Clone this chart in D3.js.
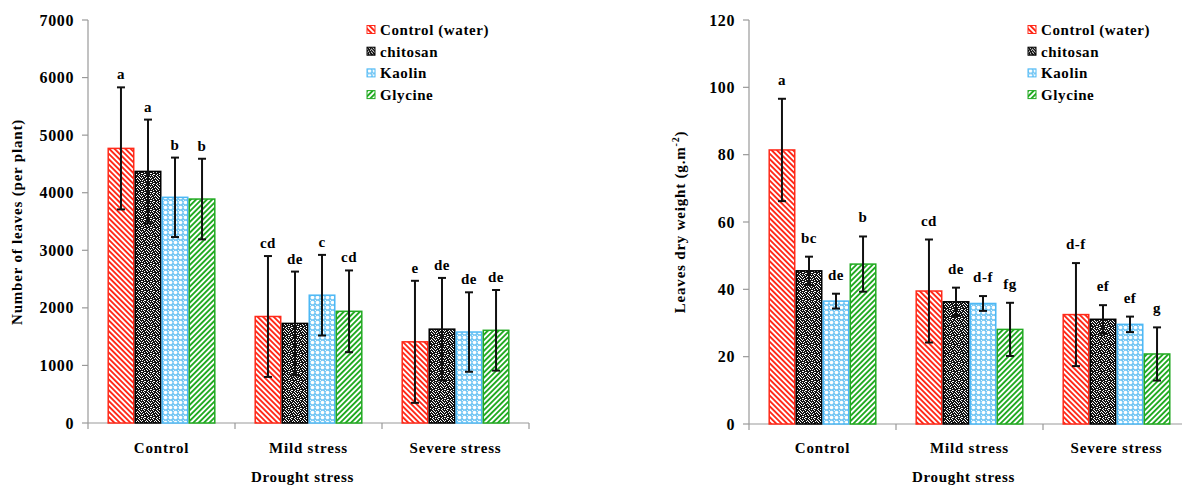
<!DOCTYPE html>
<html>
<head>
<meta charset="utf-8">
<script src="https://cdn.jsdelivr.net/npm/d3@7"></script>
<style>
    body { margin: 0; background: #fff; }
    svg text { font-weight: bold; fill: #000; }
</style>
</head>
<body>
<svg id="chart" width="1182" height="486" font-family="'Liberation Serif', 'DejaVu Serif', serif"></svg>
<script>
/* global d3 */

var categories = ["Control", "Mild stress", "Severe stress"];
var series = ["Control (water)", "chitosan", "Kaolin", "Glycine"];

// number of leaves per plant
var leaves = [[4770, 4370, 3920, 3890], [1850, 1730, 2220, 1940], [1410, 1630, 1580, 1610]];
var leavesErr = [[1060, 900, 690, 700], [1050, 900, 700, 710], [1060, 890, 690, 700]];
var leavesLetters = [["a", "a", "b", "b"], ["cd", "de", "c", "cd"], ["e", "de", "de", "de"]];
var leavesTicks = [0, 1000, 2000, 3000, 4000, 5000, 6000, 7000];

// leaves dry weight g.m-2
var weight = [[81.4, 45.5, 36.5, 47.5], [39.5, 36.3, 35.8, 28.1], [32.5, 31.1, 29.6, 20.8]];
var weightErr = [[15.2, 4.2, 2.2, 8.2], [15.3, 4.2, 2.2, 7.9], [15.3, 4.2, 2.3, 7.9]];
var weightLetters = [["a", "bc", "de", "b"], ["cd", "de", "d-f", "fg"], ["d-f", "ef", "ef", "g"]];
var weightTicks = [0, 20, 40, 60, 80, 100, 120];

var strokes = ["#ff2a1a", "#000000", "#4db8f5", "#22aa22"];
var fills = ["url(#pRed)", "url(#pBlack)", "url(#pBlue)", "url(#pGreen)"];

var svg = d3.select("#chart");
var defs = svg.append("defs");

function stripes(id, colour, angle) {
    var p = defs.append("pattern")
        .attr("id", id)
        .attr("patternUnits", "userSpaceOnUse")
        .attr("width", 3.8)
        .attr("height", 3.8)
        .attr("patternTransform", "rotate(" + angle + ")");
    p.append("rect").attr("width", 3.8).attr("height", 3.8).attr("fill", "#fff");
    p.append("rect").attr("width", 1.9).attr("height", 3.8).attr("fill", colour);
}
stripes("pRed", "#ff2a1a", -45);
stripes("pGreen", "#22aa22", 45);

// stipple for chitosan, an irregular 9x9 tile
var pb = defs.append("pattern")
    .attr("id", "pBlack")
    .attr("patternUnits", "userSpaceOnUse")
    .attr("width", 9)
    .attr("height", 9);
pb.append("rect").attr("width", 9).attr("height", 9).attr("fill", "#151515");
var specks = [[0, 0], [4, 0], [7, 0], [2, 1], [5, 1], [8, 2], [0, 2], [3, 3], [6, 3], [1, 4], [5, 4],
    [8, 4], [2, 5], [4, 6], [7, 6], [0, 6], [3, 7], [6, 8], [1, 8], [8, 7], [5, 7], [6, 5], [2, 3]];
specks.forEach(function (d) {
    pb.append("rect").attr("x", d[0]).attr("y", d[1]).attr("width", 1).attr("height", 1).attr("fill", "#fff");
});

// light blue net for kaolin
var pk = defs.append("pattern")
    .attr("id", "pBlue")
    .attr("patternUnits", "userSpaceOnUse")
    .attr("width", 5)
    .attr("height", 5);
pk.append("rect").attr("width", 5).attr("height", 5).attr("fill", "#78c8f4");
pk.append("circle").attr("cx", 2.5).attr("cy", 2.5).attr("r", 1.8).attr("fill", "#fff");
pk.append("rect").attr("x", 0).attr("y", 0).attr("width", 1).attr("height", 1).attr("fill", "#e6f5fd");

function drawChart(o) {
    var g = svg.append("g");

    var x0 = d3.scaleBand().domain(categories).range([o.left, o.right]).padding(0);
    var x1 = d3.scaleBand().domain(series).range([0, x0.bandwidth()]).paddingInner(0).paddingOuter(0.72);
    var y = d3.scaleLinear().domain([0, o.max]).range([o.bottom, o.top]);

    // y axis
    g.append("line")
        .attr("x1", o.left).attr("x2", o.left)
        .attr("y1", y(0)).attr("y2", y(o.max))
        .attr("stroke", "#999").attr("stroke-width", 1.2);
    var yt = g.selectAll(".yt").data(o.ticks).enter().append("g").attr("class", "yt");
    yt.append("line")
        .attr("x1", o.left - 6).attr("x2", o.left)
        .attr("y1", function (d) { return y(d); }).attr("y2", function (d) { return y(d); })
        .attr("stroke", "#999").attr("stroke-width", 1.2);
    yt.append("text")
        .attr("x", o.left - 14)
        .attr("y", function (d) { return y(d); })
        .attr("dy", "0.35em")
        .attr("text-anchor", "end")
        .style("font-size", "16px")
        .style("letter-spacing", "0.6px")
        .text(function (d) { return d; });

    // x axis
    g.append("line")
        .attr("x1", o.left).attr("x2", o.right)
        .attr("y1", y(0)).attr("y2", y(0))
        .attr("stroke", "#999").attr("stroke-width", 1.2);
    var bounds = categories.map(function (c) { return x0(c); }).concat([o.right]);
    g.selectAll(".xt").data(bounds).enter().append("line")
        .attr("x1", function (d) { return d; }).attr("x2", function (d) { return d; })
        .attr("y1", y(0)).attr("y2", y(0) + 6)
        .attr("stroke", "#999").attr("stroke-width", 1.2);
    g.selectAll(".xl").data(categories).enter().append("text")
        .attr("x", function (d) { return x0(d) + x0.bandwidth() / 2; })
        .attr("y", 453)
        .attr("text-anchor", "middle")
        .style("font-size", "15px")
        .style("letter-spacing", "0.8px")
        .text(function (d) { return d; });

    g.append("text")
        .attr("x", (o.left + o.right) / 2 - 6)
        .attr("y", 482)
        .attr("text-anchor", "middle")
        .style("font-size", "15px")
        .style("letter-spacing", "0.7px")
        .text("Drought stress");

    // bars
    var grp = g.selectAll(".grp").data(categories).enter().append("g")
        .attr("transform", function (d) { return "translate(" + x0(d) + ",0)"; });

    var cells = grp.selectAll(".cell")
        .data(function (d, i) {
            return series.map(function (s, j) {
                return { s: s, j: j, v: o.values[i][j], e: o.errs[i][j], l: o.letters[i][j] };
            });
        })
        .enter().append("g");

    cells.append("rect")
        .attr("x", function (d) { return x1(d.s) + 0.75; })
        .attr("y", function (d) { return y(d.v); })
        .attr("width", x1.bandwidth() - 1.5)
        .attr("height", function (d) { return y(0) - y(d.v); })
        .attr("fill", function (d) { return fills[d.j]; })
        .attr("stroke", function (d) { return strokes[d.j]; })
        .attr("stroke-width", 1.5);

    var cx = function (d) { return x1(d.s) + x1.bandwidth() / 2; };
    cells.append("line")
        .attr("x1", cx).attr("x2", cx)
        .attr("y1", function (d) { return y(d.v + d.e); })
        .attr("y2", function (d) { return y(d.v - d.e); })
        .attr("stroke", "#111").attr("stroke-width", 2);
    [1, -1].forEach(function (sg) {
        cells.append("line")
            .attr("x1", function (d) { return cx(d) - 4; })
            .attr("x2", function (d) { return cx(d) + 4; })
            .attr("y1", function (d) { return y(d.v + sg * d.e); })
            .attr("y2", function (d) { return y(d.v + sg * d.e); })
            .attr("stroke", "#111").attr("stroke-width", 2);
    });

    cells.append("text")
        .attr("x", cx)
        .attr("y", function (d) { return y(d.v + d.e) - o.gap; })
        .attr("text-anchor", "middle")
        .style("font-size", "15px")
        .style("letter-spacing", "0.5px")
        .text(function (d) { return d.l; });

    // legend
    var lg = g.selectAll(".lg").data(series).enter().append("g")
        .attr("transform", function (d, i) { return "translate(" + o.legendX + "," + (30 + i * 21.7) + ")"; });
    lg.append("rect")
        .attr("x", 0).attr("y", -4.5)
        .attr("width", 8).attr("height", 8)
        .attr("fill", function (d, i) { return fills[i]; })
        .attr("stroke", function (d, i) { return strokes[i]; })
        .attr("stroke-width", 1);
    lg.append("text")
        .attr("x", 13)
        .attr("y", 0)
        .attr("dy", "0.33em")
        .style("font-size", "15px")
        .style("letter-spacing", "0.6px")
        .text(function (d) { return d; });

    // y title
    var yl = g.append("text")
        .attr("transform", "translate(" + o.titleX + "," + o.titleY + ")rotate(-90)")
        .attr("text-anchor", "middle")
        .style("font-size", "15px")
        .style("letter-spacing", "0.8px");
    o.title(yl);
}

drawChart({
    left: 88, right: 529, top: 20, bottom: 423, max: 7000,
    ticks: leavesTicks, values: leaves, errs: leavesErr, letters: leavesLetters,
    gap: 8, legendX: 367, titleX: 22, titleY: 222,
    title: function (t) { t.text("Number of leaves (per plant)"); }
});

drawChart({
    left: 749, right: 1190, top: 20, bottom: 424, max: 120,
    ticks: weightTicks, values: weight, errs: weightErr, letters: weightLetters,
    gap: 14, legendX: 1028, titleX: 685, titleY: 222,
    title: function (t) {
        t.append("tspan").text("Leaves dry weight (g.m");
        t.append("tspan").attr("dy", -6).style("font-size", "10px").text("-2");
        t.append("tspan").attr("dy", 6).text(")");
    }
});
</script>
</body>
</html>
